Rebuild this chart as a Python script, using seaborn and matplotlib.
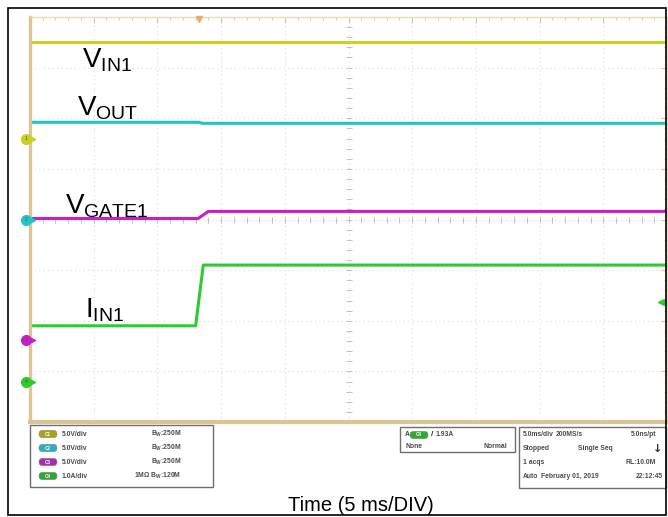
import numpy as np
import pandas as pd
import matplotlib
matplotlib.use("Agg")
import matplotlib.pyplot as plt
import matplotlib.transforms as mtransforms
from matplotlib.patches import Rectangle, FancyBboxPatch
import seaborn as sns

# ---------------- data (read from the scope capture) ----------------
channels = ["VIN1", "VOUT", "VGATE1", "IIN1"]
t_vin1 = [0.0, 50.0]                 # ms
y_vin1 = [9.5, 9.5]                  # V
t_vout = [0.0, 13.3, 13.5, 50.0]
y_vout = [9.6, 9.6, 9.5, 9.5]        # V
t_gate = [0.0, 13.2, 14.0, 50.0]
y_gate = [12.0, 12.0, 12.7, 12.7]    # V
t_iin = [0.0, 13.0, 13.6, 50.0]
y_iin = [1.1, 1.1, 2.3, 2.3]         # A
scale_per_div = [5.0, 5.0, 5.0, 1.0]     # V/div, A/div
offset_div = [1.60, 0.0, -2.38, -3.20]   # ground marker positions (div)
trig_time = 13.3
trig_level = 1.58
time_per_div = 5.0
n_xdiv, n_ydiv = 10, 8

chan_labels = [r"$\mathregular{V_{IN1}}$", r"$\mathregular{V_{OUT}}$",
               r"$\mathregular{V_{GATE1}}$", r"$\mathregular{I_{IN1}}$"]
status_scale = ["5.0V/div", "5.0V/div", "5.0V/div", "1.0A/div"]
status_bw = [r"$\mathregular{B_W}$:250M", r"$\mathregular{B_W}$:250M",
             r"$\mathregular{B_W}$:250M", r"1MΩ $\mathregular{B_W}$:120M"]
colors = ["#c9d11e", "#1fc4c8", "#c61fc8", "#2dcb2d"]
pill_colors = ["#aaa410", "#2bb0bf", "#a92ab5", "#2ea82e"]

# ---------------- build long table ----------------
series_t = [t_vin1, t_vout, t_gate, t_iin]
series_y = [y_vin1, y_vout, y_gate, y_iin]
rows = []
for name, ts, ys, sc, off in zip(channels, series_t, series_y, scale_per_div, offset_div):
    for t, y in zip(ts, ys):
        rows.append({"t": t, "div": y / sc + off, "channel": name})
df = pd.DataFrame(rows)

sns.set_style("white")
plt.rcParams["font.family"] = ["Liberation Sans", "DejaVu Sans"]
plt.rcParams["mathtext.fontset"] = "custom"
plt.rcParams["mathtext.rm"] = "Liberation Sans"
plt.rcParams["mathtext.it"] = "Liberation Sans"
plt.rcParams["mathtext.bf"] = "Liberation Sans:bold"

W, H = 668, 517
fig = plt.figure(figsize=(W / 100, H / 100), dpi=100)
fig.patch.set_facecolor("white")

# scope screen
L, R, T, B = 30, 667, 17, 422
ax = fig.add_axes([L / W, (H - B) / H, (R - L) / W, (B - T) / H])
ax.set_facecolor("white")
xmax = n_xdiv * time_per_div
ax.set_xlim(0, xmax)
ax.set_ylim(-n_ydiv / 2, n_ydiv / 2)

ax.set_xticks(np.arange(0, xmax + 0.01, time_per_div))
ax.set_xticks(np.arange(0, xmax + 0.01, time_per_div / 5), minor=True)
ax.set_yticks(np.arange(-n_ydiv / 2, n_ydiv / 2 + 0.01, 1))
ax.set_yticks(np.arange(-n_ydiv / 2, n_ydiv / 2 + 0.01, 0.2), minor=True)
tan = "#dcc594"
ax.tick_params(which="both", direction="in", colors=tan, top=True, right=True,
               labelbottom=False, labelleft=False)
ax.tick_params(which="major", length=4, width=0.8)
ax.tick_params(which="minor", length=2.5, width=0.6)
ax.grid(True, which="major", ls=(0, (1, 3)), color="#dadada", lw=0.8)
for side, lw in [("left", 2.4), ("bottom", 3.0), ("top", 1.0), ("right", 1.0)]:
    ax.spines[side].set_color(tan if side in ("left", "bottom") else "#eadbb8")
    ax.spines[side].set_linewidth(lw)

# centre cross tick marks
cx = xmax / 2
ax.plot(np.full(41, cx), np.arange(-4, 4.01, 0.2), ls="none", marker="_", ms=4,
        mew=0.7, color="#c0c0c0")
ax.plot(np.arange(0, xmax + 0.01, 1.0), np.zeros(51), ls="none", marker="|", ms=4,
        mew=0.7, color="#c0c0c0")

sns.lineplot(data=df, x="t", y="div", hue="channel",
             palette=dict(zip(channels, colors)), linewidth=2.2,
             estimator=None, sort=False, legend=False, ax=ax)
ax.set_xlabel("")
ax.set_ylabel("")

# ground markers at left
blend = mtransforms.blended_transform_factory(ax.transAxes, ax.transData)
for i, (off, c) in enumerate(zip(offset_div, colors)):
    ax.plot([-0.006], [off], marker="o", ms=7, color=c, transform=blend, clip_on=False,
            zorder=5)
    ax.plot([0.004], [off], marker=">", ms=3, color=c, transform=blend, clip_on=False,
            zorder=5)
    ax.text(-0.006, off, str(i + 1), transform=blend, fontsize=3.5, color="#705000",
            ha="center", va="center", zorder=6)

# trigger position (top) and trigger level (right)
ax.plot([trig_time], [n_ydiv / 2 - 0.04], marker="v", ms=5, color="#f2a86a",
        clip_on=False, zorder=5)
ax.plot([0.99], [trig_level / scale_per_div[3] + offset_div[3]], marker="<", ms=4,
        color=colors[3], transform=blend, clip_on=False, zorder=5)

# ---------------- overlay in pixel coordinates ----------------
ov = fig.add_axes([0, 0, 1, 1])
ov.set_xlim(0, W)
ov.set_ylim(H, 0)
ov.axis("off")
ov.patch.set_alpha(0)

# trace labels
label_pos = [(82, 68), (77, 115), (65, 213), (85, 318)]
for lab, (x, y) in zip(chan_labels, label_pos):
    ov.text(x, y, lab, fontsize=20, ha="left", va="baseline", color="black")

# status boxes
box_kw = dict(fc="white", ec="#6e6e6e", lw=1.0)
ov.add_patch(Rectangle((30, 425), 183, 62, **box_kw))
ov.add_patch(Rectangle((400, 427), 115, 25, **box_kw))
ov.add_patch(Rectangle((519, 427), 147, 61, **box_kw))


def pill(x, y, c, txt):
    ov.add_patch(FancyBboxPatch((x - 9, y - 3.6), 18, 7.2,
                                boxstyle="round,pad=0,rounding_size=3.6",
                                fc=c, ec="#808080", lw=0.4))
    ov.text(x, y, txt, fontsize=3.3, color="white", ha="center", va="center",
            fontweight="bold")


sfont = dict(fontsize=4.9, fontweight="bold", color="#4a4a4a", va="center")
row_y = [434, 448, 462, 476]
for i, (c, sc, bw) in enumerate(zip(pill_colors, status_scale, status_bw)):
    pill(48, row_y[i], c, f"C{i+1}")
    ov.text(62, row_y[i], sc, ha="left", **sfont)
    ov.text(181, row_y[i], bw, ha="right", **sfont)

ov.text(405, 435, "A", ha="left", **sfont)
pill(419, 435, pill_colors[3], "C4")
ov.text(431, 435, "/", ha="left", fontsize=6, fontweight="bold", color="#303030",
        va="center")
ov.text(436, 435, "1.93A", ha="left", **sfont)
ov.text(405, 447, "None", ha="left", **sfont)
ov.text(507, 447, "Normal", ha="right", **sfont)

rr = [435, 449, 463, 477]
ov.text(523, rr[0], "5.0ms/div", ha="left", **sfont)
ov.text(556, rr[0], "200MS/s", ha="left", **sfont)
ov.text(656, rr[0], "5.0ns/pt", ha="right", **sfont)
ov.text(523, rr[1], "Stopped", ha="left", **sfont)
ov.text(578, rr[1], "Single Seq", ha="left", **sfont)
ov.text(658, rr[1], "↓", ha="center", fontsize=8, fontweight="bold", color="#303030",
        va="center", family="DejaVu Sans")
ov.text(523, rr[2], "1 acqs", ha="left", **sfont)
ov.text(656, rr[2], "RL:10.0M", ha="right", **sfont)
ov.text(523, rr[3], "Auto", ha="left", **sfont)
ov.text(541, rr[3], "February 01, 2019", ha="left", **sfont)
ov.text(663, rr[3], "22:12:45", ha="right", **sfont)

# x-axis caption
ov.text(361, 511, "Time (5 ms/DIV)", fontsize=14.5, ha="center", va="baseline",
        color="black")

# outer border
ov.add_patch(Rectangle((8, 8), 658, 507, fill=False, ec="black", lw=1.2))

fig.savefig("out.png", dpi=100, facecolor="white")
